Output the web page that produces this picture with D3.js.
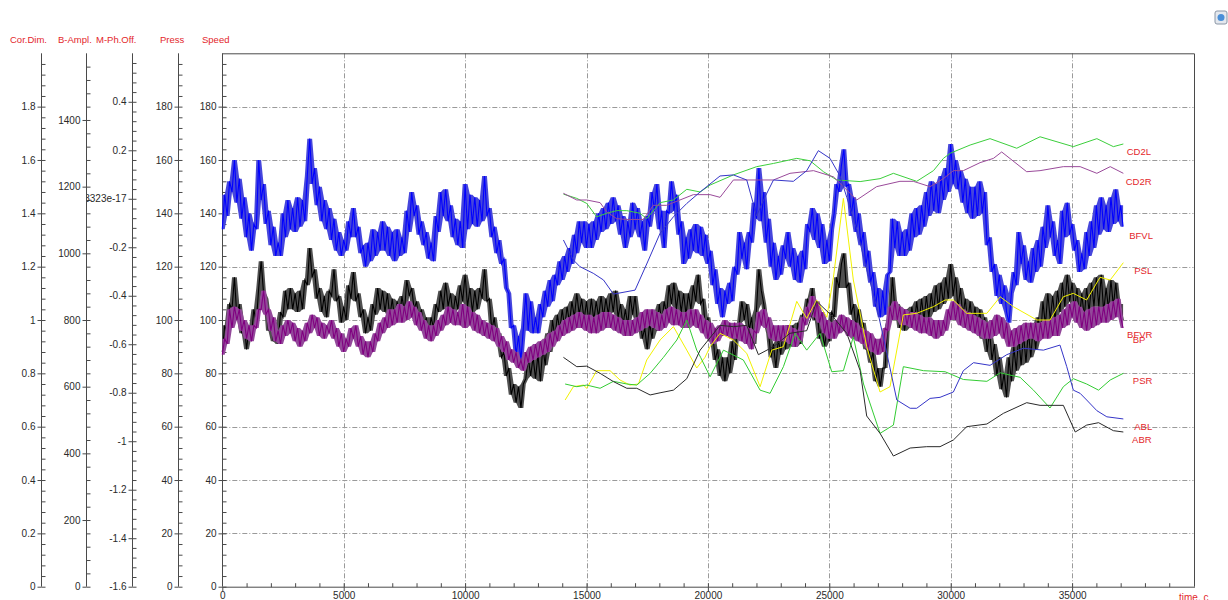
<!DOCTYPE html>
<html><head><meta charset="utf-8">
<script src="https://cdn.jsdelivr.net/npm/d3@7"></script>
<style>
body{margin:0;background:#fff;}
svg{display:block;font-family:"Liberation Sans",Arial,sans-serif;}
</style></head><body>
<svg id="c" width="1228" height="600"></svg>
<script>
// ---------- DATA ----------
const sampleStep = 100; // time between samples of dense signals
const bfvl = [134,147,139,152,148,160,144,153,138,146,
131,140,126,136,134,160,145,151,136,141,
128,135,124,129,124,140,131,145,134,142,
133,146,135,145,137,154,168,151,157,143,
150,137,145,134,142,130,138,126,133,124,
130,126,137,131,142,131,135,125,128,120,
129,122,134,124,133,126,137,126,135,124,
133,122,134,124,131,125,141,133,148,139,
143,132,137,128,133,123,129,122,139,133,
148,139,149,137,143,131,138,128,137,127,
151,134,147,136,146,135,145,137,154,139,
142,131,135,125,130,121,123,112,110,97,
98,87,94,85,97,110,96,107,95,101,
95,106,101,111,105,115,107,117,113,122,
115,124,118,127,121,132,125,137,129,137,
127,136,127,137,130,140,133,142,134,144,
136,146,137,143,132,139,127,137,131,144,
134,142,131,137,126,139,135,148,141,151,
134,141,127,141,140,152,141,147,132,137,
121,131,123,134,126,136,125,135,124,132,
121,126,113,119,106,112,101,111,106,114,
107,120,117,133,123,129,119,133,129,144,
138,157,137,148,129,138,120,129,115,124,
117,128,123,133,120,127,115,124,114,126,
119,136,133,142,130,140,127,136,121,130,
122,134,140,151,148,158,164,150,151,139,
146,133,140,128,133,120,126,114,118,105,
112,101,111,102,117,118,138,127,137,124,
133,124,134,126,140,131,142,132,143,135,
148,139,152,141,151,140,154,145,157,148,
166,151,160,149,156,144,153,140,150,138,
150,139,152,140,148,128,131,118,121,109,
117,106,113,103,99,110,118,113,133,121,
128,115,122,114,127,118,130,120,135,127,
143,131,137,124,130,121,141,131,144,132,
136,126,130,118,125,119,133,124,137,127,
143,132,146,134,143,133,146,136,149,137,
143,135];
const bp = [88,98,95,106,104,116,101,106,95,99,
89,97,94,104,99,112,122,110,108,96,
101,92,98,91,103,101,111,104,112,104,
110,103,111,104,115,113,127,116,119,108,
112,103,109,101,111,109,119,107,109,99,
105,100,113,108,118,107,110,101,104,95,
101,96,106,102,112,104,111,103,110,101,
108,100,107,101,109,103,115,109,112,104,
107,99,104,96,101,94,101,97,106,103,
111,104,114,105,110,102,109,104,113,107,
117,105,112,103,111,104,112,108,119,107,
108,96,101,92,95,86,88,79,82,72,
76,69,75,67,76,78,86,79,86,78,
87,77,90,83,95,88,100,93,102,96,
104,97,105,99,107,101,110,102,108,100,
107,99,108,100,107,101,109,101,108,102,
110,103,111,101,106,98,104,98,109,102,
109,99,102,93,97,89,99,93,103,96,
106,99,107,102,113,106,114,104,111,103,
110,102,110,104,113,107,117,106,108,96,
101,92,95,85,89,79,86,77,86,80,
92,85,96,99,107,100,106,96,101,91,
104,119,111,106,99,95,86,91,82,93,
87,97,89,98,90,98,90,99,91,102,
100,108,104,112,100,104,93,98,90,96,
92,103,101,116,112,121,125,112,114,102,
106,97,104,94,99,89,93,84,88,77,
82,75,82,82,98,101,116,104,106,97,
104,96,104,97,105,98,107,99,108,100,
109,101,110,103,113,104,114,106,116,108,
121,109,116,104,112,101,108,99,107,97,
105,95,104,93,101,88,96,85,91,79,
86,74,80,71,86,77,90,81,94,83,
95,84,96,86,98,89,101,93,107,98,
110,100,109,100,111,103,114,105,117,107,
114,103,112,100,110,101,112,103,114,105,
116,105,117,103,112,104,115,105,114,103,
106,100];
const bfvr = [87,93,91,104,97,105,100,104,96,100,
93,98,92,98,97,104,104,111,102,104,
96,101,92,96,91,98,94,100,95,99,
92,97,90,96,92,99,95,102,97,101,
94,99,93,98,95,100,93,97,90,95,
88,93,90,97,93,98,90,94,87,92,
86,92,88,95,92,99,95,101,97,104,
98,104,99,106,99,105,100,107,101,105,
98,103,96,100,93,98,92,98,94,100,
96,102,98,105,99,104,98,103,98,106,
97,105,98,103,96,102,95,100,94,99,
93,98,92,97,90,94,88,92,85,89,
84,88,82,85,81,88,84,90,85,91,
86,92,87,93,88,95,90,96,92,98,
94,100,95,101,96,102,97,103,97,102,
96,102,95,101,95,102,96,103,97,103,
97,102,96,101,95,100,94,100,94,100,
95,101,96,103,97,104,98,104,97,103,
96,102,97,104,99,105,98,104,98,103,
97,103,97,104,98,104,97,102,95,100,
93,99,91,97,92,98,94,100,94,99,
93,99,93,99,92,98,91,97,89,96,
95,103,98,104,97,101,93,98,92,98,
92,98,92,98,91,97,90,96,92,101,
98,105,101,109,101,107,99,103,95,100,
93,99,93,100,95,102,96,101,94,100,
93,99,92,97,91,96,89,95,88,93,
87,93,88,97,96,105,100,107,100,105,
98,104,98,103,97,103,96,102,95,101,
95,101,94,100,93,100,94,100,96,104,
100,107,100,106,98,104,97,103,96,102,
95,101,94,100,93,99,93,100,94,102,
95,101,93,99,90,96,90,97,91,98,
92,99,93,99,93,99,92,99,93,100,
93,100,94,101,94,102,97,104,98,106,
101,107,99,105,97,103,96,104,97,105,
98,105,99,105,99,106,100,107,101,108,
101,97];

// sparse series: [time, value]
const cd2l = [[14050,147.2],[14600,145.6],[15010,143.7],[15420,138.7],[15830,140],[16240,141],[16660,141],[17210,140],[17480,138],[18030,144],[18580,145],[19130,149],[19680,148],[20090,150.6],[21050,154.4],[22010,157.5],[22700,158.7],[23660,160.6],[24210,159.7],[24760,155.6],[25310,152.5],[26270,151.9],[27090,153],[27640,155],[28600,152],[29290,156],[29700,160.6],[29975,162.5],[30800,165.6],[31620,168],[32720,164.4],[33680,168.7],[35050,165],[36020,168],[36700,165],[37110,166]];
const cd2r = [[14050,147.5],[14600,145],[15010,145],[15560,144],[15830,140.6],[16240,138],[16660,137.7],[17340,137.7],[17750,143],[18300,143],[18850,145],[19400,147],[20090,147],[20500,146],[21050,152.5],[22010,152.5],[22700,152.5],[23380,155],[24350,156],[25170,153.7],[25580,150],[26130,145],[26950,150],[27910,152],[28460,152],[29150,150],[29700,153],[30110,156],[30520,156],[31210,159],[31760,160.6],[32100,163],[33130,155.6],[33680,156],[34640,157.5],[35330,157.5],[36020,155],[36570,157.5],[37110,155]];
const psl = [[14120,70],[14460,75],[14870,75.6],[15010,74.4],[15420,81],[15970,81],[16380,77.5],[16790,75.6],[17140,76],[17480,85],[18030,92.5],[18580,97.5],[19130,88.7],[19540,82],[19880,86],[20090,90],[20500,95],[21050,92.5],[21600,87.5],[22150,75],[22630,88.7],[23110,90],[23660,107],[24070,100.6],[24480,107.5],[24900,101],[25170,116],[25580,145.6],[25990,115],[26540,90],[27090,73],[27500,75],[28050,101.9],[28600,102.5],[29290,105],[29770,107.5],[30110,107.5],[30660,102.5],[31490,102.5],[32040,108.7],[32580,105],[33550,100],[34090,100],[34640,108.7],[35050,110],[35600,107.5],[36150,116],[36570,115],[37110,121.5]];
const psr = [[14120,76],[14600,75],[15010,75.6],[15560,74.4],[16110,77],[16660,76],[17070,75.6],[17620,80],[18170,86],[18720,92.5],[19130,100],[19540,88.7],[19700,86],[20090,78.7],[20640,88.7],[21460,85],[22150,73.7],[22560,72.5],[23110,82.5],[23590,95],[24070,88.7],[24620,95],[25100,80.6],[25580,81],[25990,93.7],[26410,76],[27090,57.5],[27640,60.6],[28050,82.5],[28880,81],[29770,80.6],[30520,77.7],[31490,77],[32040,80.2],[32860,78.5],[33410,73.7],[34090,67],[34640,75],[35050,78],[35600,76],[36090,73.7],[36570,77.5],[37110,80]];
const abl = [[14050,130],[14460,122.5],[14730,120],[15280,117.5],[15700,115],[16110,109.7],[17000,111.2],[17480,121],[18030,132.5],[18580,138.7],[19130,143.7],[19680,148],[20500,154],[21050,154.4],[21600,152.5],[22010,139],[22290,145],[22700,152.5],[23520,152],[24070,156],[24550,163.5],[25030,160.6],[25440,154],[25720,146],[26130,134],[26540,119],[26950,105],[27370,87.5],[27780,70],[28330,66.9],[28600,66.9],[29150,70.6],[29560,71],[30110,73],[30520,81],[30940,84],[31620,83],[32310,87],[32990,89.4],[33820,88.7],[34500,90.6],[34780,82.5],[35050,73.7],[35330,72.5],[35600,70],[36020,66],[36430,63.7],[37110,62.9]];
const abr = [[14050,86],[14600,82.5],[15010,82.7],[15560,80],[16110,76.9],[16660,74.4],[17070,74.4],[17620,71.9],[18030,72.7],[18580,73.7],[19130,78],[19680,88.7],[20500,98],[21050,97.5],[21600,98],[22080,87],[22700,90],[23380,95],[24070,96],[24480,107],[25170,101],[25720,95],[26270,81],[26540,64],[27090,57.5],[27640,49],[28330,52],[29010,52.5],[29560,52.5],[30110,55],[30660,60],[31490,61],[32170,65],[33130,69],[33680,68],[34640,68],[35130,58],[35600,60.6],[36090,61.5],[36700,58.5],[37110,58]];

// series end labels (anchor in data units: time, value)
const seriesNames = ["CD2L","CD2R","BFVL","PSL","BFVR","BP","PSR","ABL","ABR"];
const labelAnchors = [[37250,163.1],[37210,151.9],[37350,131.5],[37560,118.4],[37265,94.5],[37495,92.7],[37500,77.1],[37560,60],[37470,55.3]];

// axis tick labels
const xTicks = [0,5000,10000,15000,20000,25000,30000,35000];
const corDimTicks = [0,0.2,0.4,0.6,0.8,1,1.2,1.4,1.6,1.8];
const bAmplTicks = [0,200,400,600,800,1000,1200,1400];
const mphTicks = [-1.6,-1.4,-1.2,-1,-0.8,-0.6,-0.4,-0.2,0,0.2,0.4];
const mphTickText = ["-1.6","-1.4","-1.2","-1","-0.8","-0.6","-0.4","-0.2","-5.8323e-17","0.2","0.4"];
const pressTicks = [0,20,40,60,80,100,120,140,160,180];
const speedTicks = [0,20,40,60,80,100,120,140,160,180];
const axisTitles = ["Cor.Dim.","B-Ampl.","M-Ph.Off.","Press","Speed"];

// ---------- DRAW ----------
const svg = d3.select("#c");
const TOP = 53.3, BOT = 586.7, LEFT = 222.3, RIGHT = 1193.5;
const RED = "#e3262b", AX = "#4a4a4a";
const x = d3.scaleLinear().domain([0,40000]).range([LEFT,RIGHT]);
const y = d3.scaleLinear().domain([0,200]).range([BOT,TOP]);

// grid
const grid = svg.append("g").attr("stroke","#9a9a9a").attr("stroke-dasharray","5,2,1,2").attr("stroke-width",1);
grid.selectAll("line.v").data(xTicks.filter(d=>d>0)).join("line")
  .attr("x1",d=>Math.round(x(d))+0.5).attr("x2",d=>Math.round(x(d))+0.5).attr("y1",TOP).attr("y2",BOT);
grid.selectAll("line.h").data(speedTicks.filter(d=>d>0)).join("line")
  .attr("y1",d=>Math.round(y(d))+0.5).attr("y2",d=>Math.round(y(d))+0.5).attr("x1",LEFT).attr("x2",RIGHT);

// frame (top & right)
svg.append("path").attr("d",`M${LEFT},${TOP+0.5}H${Math.round(RIGHT)+0.5}V${BOT}`)
  .attr("fill","none").attr("stroke",AX);

// left axes
function range(a,b,s){const r=[];for(let v=a;v<=b+1e-9;v+=s)r.push(+v.toFixed(4));return r;}
const axesSpec = [
  {title:axisTitles[0], pos:40.7, dom:[0,2], ticks:corDimTicks, minor:range(0,1.96,0.04), titleX:10},
  {title:axisTitles[1], pos:86.2, dom:[0,1600], ticks:bAmplTicks, minor:range(0,1560,40), titleX:58},
  {title:axisTitles[2], pos:131.7, dom:[-1.6,0.6], ticks:mphTicks, minor:range(-1.6,0.56,0.04), titleX:96, text:mphTickText, clip:true},
  {title:axisTitles[3], pos:178.3, dom:[0,200], ticks:pressTicks, minor:range(0,196,4), titleX:160},
  {title:axisTitles[4], pos:LEFT, dom:[0,200], ticks:speedTicks, minor:range(0,196,4), titleX:202}
];
svg.append("clipPath").attr("id","mclip").append("rect").attr("x",87).attr("y",0).attr("width",200).attr("height",600);

axesSpec.forEach(a=>{
  const sc = d3.scaleLinear().domain(a.dom).range([BOT,TOP]);
  const px = Math.round(a.pos)+0.5;
  const g = svg.append("g").attr("transform",`translate(${px},0)`);
  const major = d3.axisLeft(sc).tickValues(a.ticks).tickSize(4).tickSizeOuter(0).tickPadding(2)
     .tickFormat((d,i)=> a.text ? a.text[i] : String(d));
  const gm = g.append("g").call(major);
  gm.select(".domain").remove();
  gm.selectAll("line").attr("stroke",AX);
  gm.selectAll("text").attr("fill","#2a2a2a").attr("font-size","10px").attr("font-family","Liberation Sans, Arial, sans-serif");
  const minor = d3.axisRight(sc).tickValues(a.minor).tickSize(4).tickSizeOuter(0).tickFormat("");
  const gn = g.append("g").call(minor);
  gn.select(".domain").remove();
  gn.selectAll("line").attr("stroke",AX);
  g.append("line").attr("x1",0).attr("x2",0).attr("y1",TOP).attr("y2",BOT).attr("stroke",AX);
  svg.append("text").attr("x",a.titleX).attr("y",42.5).attr("fill",RED).attr("font-size","9.5px").text(a.title);
  if(a.clip){
    const wrap = svg.append("g").attr("clip-path","url(#mclip)");
    wrap.node().appendChild(g.node());
  }
});

// bottom axis
const gx = svg.append("g").attr("transform",`translate(0,${BOT+0.5})`);
const bx = gx.append("g").call(d3.axisBottom(x).tickValues(xTicks).tickSize(4).tickSizeOuter(0).tickPadding(1).tickFormat(d3.format("d")));
bx.select(".domain").remove();
bx.selectAll("line").attr("stroke",AX);
bx.selectAll("text").attr("fill","#2a2a2a").attr("font-size","10px").attr("font-family","Liberation Sans, Arial, sans-serif");
const mx = gx.append("g").call(d3.axisTop(x).tickValues(range(1000,39000,1000)).tickSize(4).tickSizeOuter(0).tickFormat(""));
mx.select(".domain").remove();
mx.selectAll("line").attr("stroke",AX);
gx.append("line").attr("x1",LEFT).attr("x2",Math.round(RIGHT)+1).attr("stroke",AX);
svg.append("text").attr("x",1179).attr("y",601).attr("fill",RED).attr("font-size","10px").text("time, c");

// data lines
const plot = svg.append("g");
const dense = (arr)=>arr.map((v,i)=>[i*sampleStep,v]);
const line = d3.line().x(d=>x(d[0])).y(d=>y(d[1]));
// dense signals: the band swept by the rapid oscillation (local min/max of neighbouring samples) + the trace itself
const band = d3.area().x(d=>x(d.t)).y0(d=>y(d.lo)).y1(d=>y(d.hi));
function envelope(arr){
  return arr.map((v,i)=>{
    const w = arr.slice(Math.max(0,i-1), i+2);
    return {t:i*sampleStep, lo:d3.min(w), hi:d3.max(w)};
  });
}
const denseSeries = [[bfvl,"#0000ff","#4646dc"],[bp,"#000000","#505050"],[bfvr,"#800080","#93489a"]];
denseSeries.forEach(([arr,col,fillc])=>{
  plot.append("path").attr("d",band(envelope(arr))).attr("fill",fillc).attr("stroke","none");
  plot.append("path").attr("d",line(dense(arr))).attr("fill","none").attr("stroke",col).attr("stroke-width",1.1);
});
const sparseSeries = [[cd2l,"#3ccf3c"],[cd2r,"#9a4a9a"],[psl,"#f2f200"],[psr,"#33cc33"],[abl,"#3535c8"],[abr,"#2a2a2a"]];
sparseSeries.forEach(([arr,col])=>{
  plot.append("path").attr("d",line(arr)).attr("fill","none").attr("stroke",col).attr("stroke-width",1);
});

// series labels
svg.append("g").selectAll("text").data(seriesNames).join("text")
  .attr("x",(d,i)=>x(labelAnchors[i][0])).attr("y",(d,i)=>y(labelAnchors[i][1]))
  .attr("dy","0.35em").attr("fill",RED).attr("font-size","9.5px").text(d=>d);

// corner icon
const ic = svg.append("g").attr("transform","translate(1215,11)");
ic.append("rect").attr("width",12).attr("height",13).attr("rx",2).attr("fill","#e4e8ee").attr("stroke","#8a96a6");
ic.append("circle").attr("cx",6).attr("cy",6.5).attr("r",3.5).attr("fill","#4a8fd8");
</script>
</body></html>
